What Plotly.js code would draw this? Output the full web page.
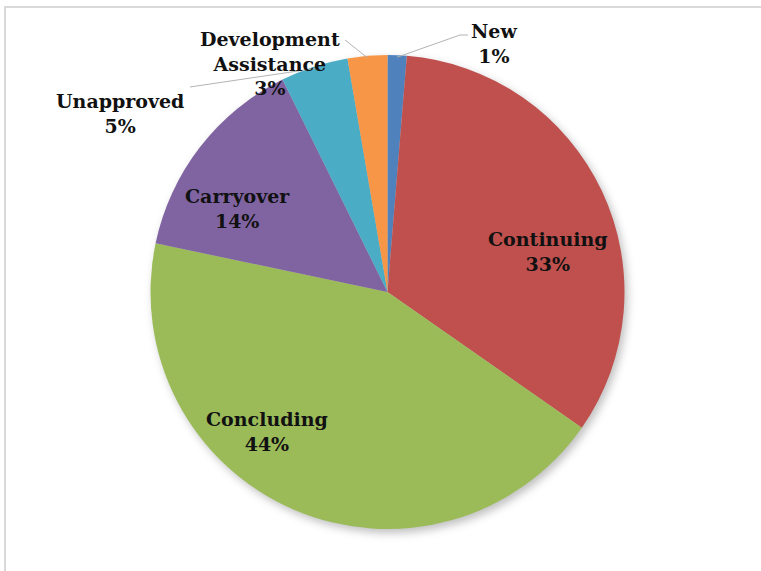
<!DOCTYPE html>
<html><head><meta charset="utf-8">
<script src="https://cdn.plot.ly/plotly-3.0.1.min.js"></script>
<style>
html,body{margin:0;padding:0;background:#fff;}
#chart{width:761px;height:571px;}
.pielayer{filter:drop-shadow(3px 4px 4px rgba(0,0,0,0.25));}
</style>
</head><body><div id="chart"></div>
<script>
// ---- data ----
const categories = ['New', 'Continuing', 'Concluding', 'Carryover', 'Unapproved', 'Development Assistance'];
const shares = [1.3, 33.4, 43.6, 14.4, 4.6, 2.7];
const labelLines = ['New', 'Continuing', 'Concluding', 'Carryover', 'Unapproved', 'Development<br>Assistance'];
const sliceColors = ['#4F81BD', '#C0504D', '#9BBB59', '#8064A2', '#4BACC6', '#F79646'];

// ---- layout geometry (pixels) ----
const W = 761, H = 571;
const cx = 387.5, cy = 292, R = 237;
const labelPos = [[494, 44], [548, 251], [267, 431], [238, 208], [120, 114], [270, 63]];
const leaderStart = {0: [[468, 35], [460, 35]], 4: [[190, 87]], 5: [[345, 40]]};

const px = x => x / W;
const py = y => 1 - y / H;

const total = shares.reduce((a, b) => a + b, 0);
const annotations = [];
const shapes = [];
let cum = 0;
shares.forEach((v, i) => {
  const frac = v / total;
  const mid = (cum + frac / 2) * 2 * Math.PI;
  cum += frac;
  const pct = Math.round(frac * 100) + '%';
  annotations.push({
    x: px(labelPos[i][0]), y: py(labelPos[i][1]), xref: 'paper', yref: 'paper',
    xanchor: 'center', yanchor: 'middle', showarrow: false, align: 'center',
    text: labelLines[i] + '<br>' + pct,
    font: {family: 'DejaVu Serif', size: 19, color: '#111', weight: 'bold'}
  });
  if (leaderStart[i]) {
    const r = R - 2;
    const ex = cx + r * Math.sin(mid), ey = cy - r * Math.cos(mid);
    const pts = leaderStart[i].concat([[ex, ey]]);
    const path = pts.map((p, k) => (k ? 'L' : 'M') + px(p[0]).toFixed(5) + ',' + py(p[1]).toFixed(5)).join(' ');
    shapes.push({type: 'path', xref: 'paper', yref: 'paper', path: path,
      line: {color: '#b3b3b3', width: 1}, layer: 'above'});
  }
});
// outer chart frame
shapes.push({type: 'rect', xref: 'paper', yref: 'paper', x0: px(5), x1: px(800), y0: py(620), y1: py(7),
  line: {color: '#d9d9d9', width: 2}, fillcolor: 'rgba(0,0,0,0)', layer: 'below'});

const trace = {
  type: 'pie',
  labels: categories,
  values: shares,
  sort: false,
  direction: 'clockwise',
  rotation: 0,
  marker: {colors: sliceColors, line: {width: 0}},
  textinfo: 'none',
  hoverinfo: 'label+percent',
  showlegend: false,
  domain: {x: [px(cx - R), px(cx + R)], y: [py(cy + R), py(cy - R)]}
};

Plotly.newPlot('chart', [trace], {
  width: W, height: H,
  margin: {l: 0, r: 0, t: 0, b: 0},
  paper_bgcolor: '#fff',
  showlegend: false,
  annotations: annotations,
  shapes: shapes
}, {displayModeBar: false, staticPlot: true});
</script>
</body></html>
